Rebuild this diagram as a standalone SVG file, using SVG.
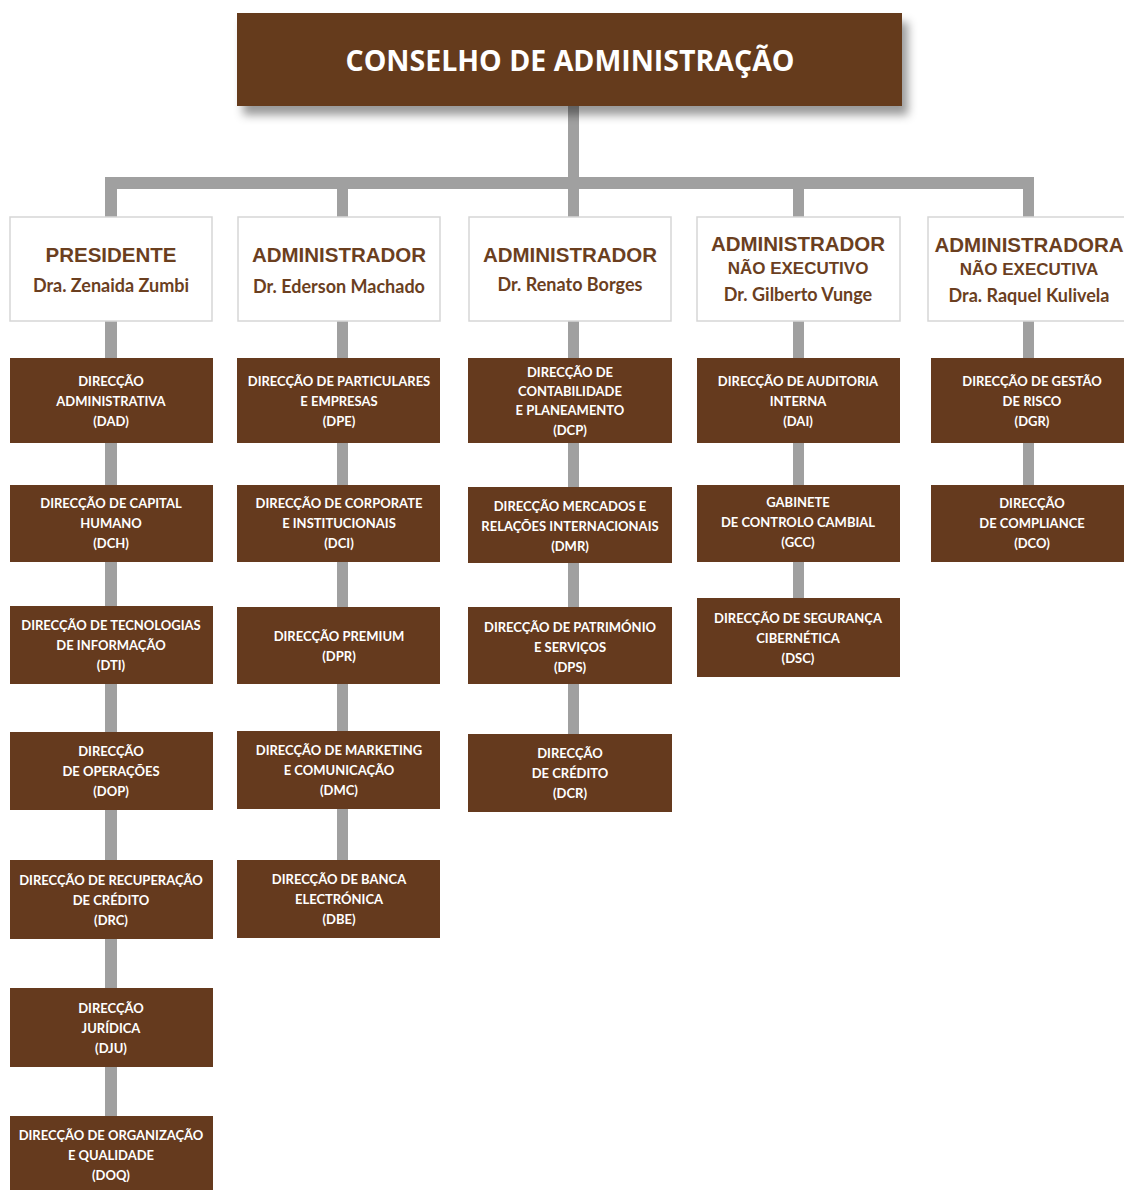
<svg xmlns="http://www.w3.org/2000/svg" width="1124" height="1190" viewBox="0 0 1124 1190">
<defs>
<filter id="sh" x="-5%" y="-20%" width="112%" height="160%">
<feDropShadow dx="6" dy="9" stdDeviation="5" flood-color="#000" flood-opacity="0.4"/>
</filter>
<style>
.ln{fill:#a0a0a0}
.hd{fill:#fff;stroke:#d6d6d6;stroke-width:1.5}
.dp{fill:#653a1e}
.t{font-family:Lato,"Open Sans",sans-serif;font-weight:700;font-size:13px;fill:#fff;text-anchor:middle}
.h1{font-family:"Liberation Sans",Arial,sans-serif;font-weight:700;font-size:20.5px;fill:#6b3f1f;text-anchor:middle}
.h2{font-family:"Liberation Sans",Arial,sans-serif;font-weight:700;font-size:17px;fill:#6b3f1f;text-anchor:middle}
.nm{font-family:Lato,"Open Sans",sans-serif;font-weight:700;font-size:18px;fill:#6b3f1f;text-anchor:middle}
.ti{font-family:"Open Sans",Lato,sans-serif;font-weight:700;font-size:28.5px;fill:#fff;text-anchor:middle}
</style>
</defs>
<rect width="1124" height="1190" fill="#fff"/>
<g id="connectors">
<rect class="ln" x="568" y="100" width="11" height="89"/>
<rect class="ln" x="105" y="177" width="929" height="12"/>
<rect class="ln" x="105" y="177" width="12" height="945"/>
<rect class="ln" x="337" y="177" width="11" height="690"/>
<rect class="ln" x="568" y="177" width="11" height="560"/>
<rect class="ln" x="793" y="177" width="11" height="425"/>
<rect class="ln" x="1023" y="177" width="11" height="312"/>
</g>
<g id="conselho">
<rect x="237" y="13" width="665" height="93" fill="#653a1e" filter="url(#sh)"/>
<text class="ti" x="570" y="71">CONSELHO DE ADMINISTRAÇÃO</text>
</g>
<g id="presidente"><rect class="hd" x="10" y="217" width="202" height="104"/>
<text class="h1" x="111" y="262">PRESIDENTE</text><text class="nm" x="111" y="292">Dra. Zenaida Zumbi</text></g>
<g id="adm1"><rect class="hd" x="238" y="217" width="202" height="104"/>
<text class="h1" x="339" y="262">ADMINISTRADOR</text><text class="nm" x="339" y="293">Dr. Ederson Machado</text></g>
<g id="adm2"><rect class="hd" x="469" y="217" width="202" height="104"/>
<text class="h1" x="570" y="262">ADMINISTRADOR</text><text class="nm" x="570" y="291">Dr. Renato Borges</text></g>
<g id="adm3"><rect class="hd" x="697" y="217" width="203" height="104"/>
<text class="h1" x="798" y="251">ADMINISTRADOR</text><text class="h2" x="798" y="274">NÃO EXECUTIVO</text><text class="nm" x="798" y="301">Dr. Gilberto Vunge</text></g>
<g id="adm4"><rect class="hd" x="928" y="217" width="200" height="104"/>
<text class="h1" x="1029" y="252">ADMINISTRADORA</text><text class="h2" x="1029" y="275">NÃO EXECUTIVA</text><text class="nm" x="1029" y="302">Dra. Raquel Kulivela</text></g>

<g id="dad"><rect class="dp" x="10" y="358" width="203" height="85"/><text class="t" x="111"><tspan x="111" y="386">DIRECÇÃO</tspan><tspan x="111" y="406">ADMINISTRATIVA</tspan><tspan x="111" y="426">(DAD)</tspan></text></g>
<g id="dch"><rect class="dp" x="10" y="485" width="203" height="77"/><text class="t"><tspan x="111" y="508">DIRECÇÃO DE  CAPITAL</tspan><tspan x="111" y="528">HUMANO</tspan><tspan x="111" y="548">(DCH)</tspan></text></g>
<g id="dti"><rect class="dp" x="10" y="606" width="203" height="78"/><text class="t"><tspan x="111" y="630">DIRECÇÃO DE TECNOLOGIAS</tspan><tspan x="111" y="650">DE INFORMAÇÃO</tspan><tspan x="111" y="670">(DTI)</tspan></text></g>
<g id="dop"><rect class="dp" x="10" y="732" width="203" height="78"/><text class="t"><tspan x="111" y="756">DIRECÇÃO</tspan><tspan x="111" y="776">DE OPERAÇÕES</tspan><tspan x="111" y="796">(DOP)</tspan></text></g>
<g id="drc"><rect class="dp" x="10" y="860" width="203" height="79"/><text class="t"><tspan x="111" y="885">DIRECÇÃO DE RECUPERAÇÃO</tspan><tspan x="111" y="905">DE CRÉDITO</tspan><tspan x="111" y="925">(DRC)</tspan></text></g>
<g id="dju"><rect class="dp" x="10" y="988" width="203" height="79"/><text class="t"><tspan x="111" y="1013">DIRECÇÃO</tspan><tspan x="111" y="1033">JURÍDICA</tspan><tspan x="111" y="1053">(DJU)</tspan></text></g>
<g id="doq"><rect class="dp" x="10" y="1116" width="203" height="74"/><text class="t"><tspan x="111" y="1140">DIRECÇÃO DE ORGANIZAÇÃO</tspan><tspan x="111" y="1160">E QUALIDADE</tspan><tspan x="111" y="1180">(DOQ)</tspan></text></g>

<g id="dpe"><rect class="dp" x="237" y="358" width="203" height="85"/><text class="t"><tspan x="339" y="386">DIRECÇÃO DE PARTICULARES</tspan><tspan x="339" y="406">E EMPRESAS</tspan><tspan x="339" y="426">(DPE)</tspan></text></g>
<g id="dci"><rect class="dp" x="237" y="485" width="203" height="77"/><text class="t"><tspan x="339" y="508">DIRECÇÃO DE CORPORATE</tspan><tspan x="339" y="528">E INSTITUCIONAIS</tspan><tspan x="339" y="548">(DCI)</tspan></text></g>
<g id="dpr"><rect class="dp" x="237" y="607" width="203" height="77"/><text class="t"><tspan x="339" y="641">DIRECÇÃO PREMIUM</tspan><tspan x="339" y="661">(DPR)</tspan></text></g>
<g id="dmc"><rect class="dp" x="237" y="731" width="203" height="78"/><text class="t"><tspan x="339" y="755">DIRECÇÃO DE MARKETING</tspan><tspan x="339" y="775">E COMUNICAÇÃO</tspan><tspan x="339" y="795">(DMC)</tspan></text></g>
<g id="dbe"><rect class="dp" x="237" y="860" width="203" height="78"/><text class="t"><tspan x="339" y="884">DIRECÇÃO DE BANCA</tspan><tspan x="339" y="904">ELECTRÓNICA</tspan><tspan x="339" y="924">(DBE)</tspan></text></g>

<g id="dcp"><rect class="dp" x="468" y="358" width="204" height="85"/><text class="t"><tspan x="570" y="377">DIRECÇÃO DE</tspan><tspan x="570" y="396">CONTABILIDADE</tspan><tspan x="570" y="415">E PLANEAMENTO</tspan><tspan x="570" y="435">(DCP)</tspan></text></g>
<g id="dmr"><rect class="dp" x="468" y="487" width="204" height="76"/><text class="t"><tspan x="570" y="511">DIRECÇÃO MERCADOS E</tspan><tspan x="570" y="531">RELAÇÕES INTERNACIONAIS</tspan><tspan x="570" y="551">(DMR)</tspan></text></g>
<g id="dps"><rect class="dp" x="468" y="607" width="204" height="77"/><text class="t"><tspan x="570" y="632">DIRECÇÃO DE PATRIMÓNIO</tspan><tspan x="570" y="652">E SERVIÇOS</tspan><tspan x="570" y="672">(DPS)</tspan></text></g>
<g id="dcr"><rect class="dp" x="468" y="734" width="204" height="78"/><text class="t"><tspan x="570" y="758">DIRECÇÃO</tspan><tspan x="570" y="778">DE CRÉDITO</tspan><tspan x="570" y="798">(DCR)</tspan></text></g>

<g id="dai"><rect class="dp" x="697" y="358" width="203" height="85"/><text class="t"><tspan x="798" y="386">DIRECÇÃO DE AUDITORIA</tspan><tspan x="798" y="406">INTERNA</tspan><tspan x="798" y="426">(DAI)</tspan></text></g>
<g id="gcc"><rect class="dp" x="697" y="485" width="203" height="77"/><text class="t"><tspan x="798" y="507">GABINETE</tspan><tspan x="798" y="527">DE CONTROLO CAMBIAL</tspan><tspan x="798" y="547">(GCC)</tspan></text></g>
<g id="dsc"><rect class="dp" x="697" y="598" width="203" height="79"/><text class="t"><tspan x="798" y="623">DIRECÇÃO DE SEGURANÇA</tspan><tspan x="798" y="643">CIBERNÉTICA</tspan><tspan x="798" y="663">(DSC)</tspan></text></g>

<g id="dgr"><rect class="dp" x="931" y="358" width="200" height="85"/><text class="t"><tspan x="1032" y="386">DIRECÇÃO DE GESTÃO</tspan><tspan x="1032" y="406">DE RISCO</tspan><tspan x="1032" y="426">(DGR)</tspan></text></g>
<g id="dco"><rect class="dp" x="931" y="485" width="200" height="77"/><text class="t"><tspan x="1032" y="508">DIRECÇÃO</tspan><tspan x="1032" y="528">DE COMPLIANCE</tspan><tspan x="1032" y="548">(DCO)</tspan></text></g>
</svg>
